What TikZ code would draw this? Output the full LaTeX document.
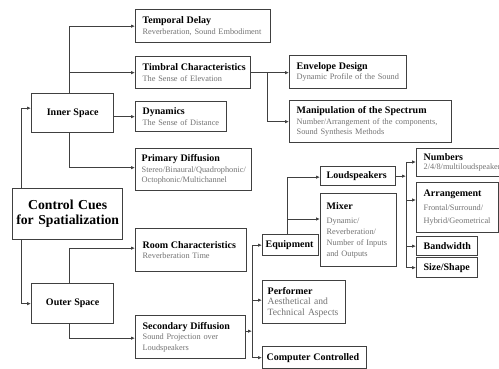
\documentclass[tikz,border=0pt]{standalone}
\usepackage{fontspec}
\setmainfont{Liberation Serif}
\usetikzlibrary{arrows.meta}
\newcommand\bt[1]{\mbox{\fontsize{10}{11}\selectfont\bfseries #1}}
\newcommand\gs[1]{\mbox{\color{black!55}#1}}
\tikzset{
  cbox/.style={draw=black!75, line width=1.3pt, fill=white, anchor=north west,
    inner xsep=7pt, inner ysep=1pt, align=left,
    font=\fontsize{8.3}{10.5}\selectfont},
  ln/.style={draw=black!75, line width=0.9pt},
  arr/.style={ln, -{Latex[length=4pt,width=3.5pt]}}
}
\begin{document}
\begin{tikzpicture}[x=1pt,y=-1pt]
\useasboundingbox (0,0) rectangle (499,369);
% level 1/2
\node[cbox, align=center, inner xsep=3pt, minimum width=110pt, minimum height=51pt, text width=104pt,
  font=\fontsize{13.7}{15}\selectfont\bfseries] (control) at (12,188) {Control Cues\\for Spatialization};
\node[cbox, align=center, minimum width=82pt, minimum height=39pt, text width=68pt] (innerspace) at (31,93) {\bt{Inner Space}};
\node[cbox, align=center, minimum width=82pt, minimum height=40pt, text width=68pt] (outer) at (31,283) {\bt{Outer Space}};
% inner space children
\node[cbox, minimum width=135pt, minimum height=33pt, text width=121pt] (temporal) at (135,9) {\bt{Temporal Delay}\\\gs{Reverberation, Sound Embodiment}};
\node[cbox, minimum width=115pt, minimum height=32pt, text width=101pt] (timbral) at (135,56) {\bt{Timbral Characteristics}\\\gs{The Sense of Elevation}};
\node[cbox, minimum width=91pt, minimum height=30pt, text width=77pt] (dynamics) at (135,101) {\bt{Dynamics}\\\gs{The Sense of Distance}};
\node[cbox, inner xsep=6pt, minimum width=116pt, minimum height=42pt, text width=104pt] (primary) at (135,148) {\bt{Primary Diffusion}\\\gs{Stereo/Binaural/Quadrophonic/}\\\gs{Octophonic/Multichannel}};
% timbral children
\node[cbox, minimum width=117pt, minimum height=33pt, text width=103pt] (envelope) at (289,55) {\bt{Envelope Design}\\\gs{Dynamic Profile of the Sound}};
\node[cbox, minimum width=162pt, minimum height=42pt, text width=148pt] (manip) at (289,100) {\bt{Manipulation of the Spectrum}\\\gs{Number/Arrangement of the components,}\\\gs{Sound Synthesis Methods}};
% outer space children
\node[cbox, minimum width=111pt, minimum height=43pt, text width=97pt] (room) at (135,228) {\bt{Room Characteristics}\\\gs{Reverberation Time}};
\node[cbox, minimum width=110pt, minimum height=43pt, text width=96pt] (secondary) at (135,315) {\bt{Secondary Diffusion}\\\gs{Sound Projection over}\\\gs{Loudspeakers}};
% secondary children
\node[cbox, inner xsep=3pt, minimum width=56pt, minimum height=21pt, text width=50pt] (equipment) at (262,234) {\bt{Equipment}};
\node[cbox, inner xsep=5pt, minimum width=83pt, minimum height=43pt, text width=73pt,
  font=\fontsize{9.6}{10.5}\selectfont] (performer) at (262,280) {\bt{Performer}\\\gs{Aesthetical and}\\\gs{Technical Aspects}};
\node[cbox, inner xsep=4pt, minimum width=104pt, minimum height=22pt, text width=96pt] (computer) at (262,346) {\bt{Computer Controlled}};
% equipment children
\node[cbox, inner xsep=6pt, minimum width=75pt, minimum height=19pt, text width=63pt] (loud) at (320,166) {\bt{Loudspeakers}};
\node[cbox, inner xsep=6pt, minimum width=76pt, minimum height=73pt, text width=64pt,
  font=\fontsize{8.3}{11}\selectfont] (mixer) at (320,193) {\bt{Mixer}\\[3pt]\gs{Dynamic/}\\\gs{Reverberation/}\\\gs{Number of Inputs}\\\gs{and Outputs}};
% loudspeakers children
\node[cbox, minimum width=100pt, minimum height=28pt, text width=86pt,
  font=\fontsize{8.3}{9.5}\selectfont] (numbers) at (416,148) {\bt{Numbers}\\\gs{2/4/8/multiloudspeakers}};
\node[cbox, minimum width=82pt, minimum height=50pt, text width=68pt,
  font=\fontsize{8.3}{13.5}\selectfont] (arrangement) at (416,182) {\bt{Arrangement}\\\gs{Frontal/Surround/}\\\gs{Hybrid/Geometrical}};
\node[cbox, minimum width=61pt, minimum height=19pt, text width=47pt] (bandwidth) at (416,236) {\bt{Bandwidth}};
\node[cbox, minimum width=61pt, minimum height=20pt, text width=47pt] (size) at (416,257) {\bt{Size/Shape}};
% bus coordinates
\coordinate (bus) at (252,0);
\coordinate (rbus) at (406,0);
\coordinate (tb) at (267,0);
% connectors: root
\draw[arr] ([xshift=9pt]control.north west) |- ([yshift=5pt]innerspace.west);
\draw[arr] ([xshift=9pt]control.south west) |- (outer.west);
% inner space
\draw[arr] ([xshift=38pt]innerspace.north west) |- (temporal.west);
\draw[arr] ([xshift=38pt]innerspace.north west |- timbral.west) -- (timbral.west);
\draw[arr] (innerspace.east |- dynamics.west) -- (dynamics.west);
\draw[arr] ([xshift=38pt]innerspace.south west) |- ([yshift=2pt]primary.west);
% timbral
\draw[arr] (timbral.east) -- (envelope.west |- timbral.east);
\draw[arr] (tb |- timbral.east) |- (manip.west);
% outer space
\draw[arr] ([xshift=38pt]outer.north west) |- ([yshift=2pt]room.west);
\draw[arr] ([xshift=38pt]outer.south west) |- ([yshift=-1pt]secondary.west);
% secondary
\draw[arr] ([yshift=6pt]secondary.east) -- ([yshift=6pt]secondary.east -| bus);
\draw[ln] (bus |- equipment.west) -- (bus |- computer.west);
\draw[arr] (bus |- equipment.west) -- (equipment.west);
\draw[arr] ([yshift=2pt]bus |- performer.west) -- ([yshift=2pt]performer.west);
\draw[arr] (bus |- computer.west) -- (computer.west);
% equipment
\draw[arr] ([xshift=25pt]equipment.north west) |- ([yshift=-1pt]loud.west);
\draw[arr] ([xshift=25pt]equipment.north west |- 0,219) -- (mixer.west |- 0,219);
% loudspeakers
\draw[arr] (loud.east) -- (loud.east -| rbus);
\draw[ln] (rbus |- 0,162) -- (rbus |- size.west);
\draw[arr] (rbus |- 0,162) -- (numbers.west |- 0,162);
\draw[arr] (rbus |- 0,200) -- (arrangement.west |- 0,200);
\draw[arr] (rbus |- bandwidth.west) -- (bandwidth.west);
\draw[arr] (rbus |- size.west) -- (size.west);
\end{tikzpicture}
\end{document}
